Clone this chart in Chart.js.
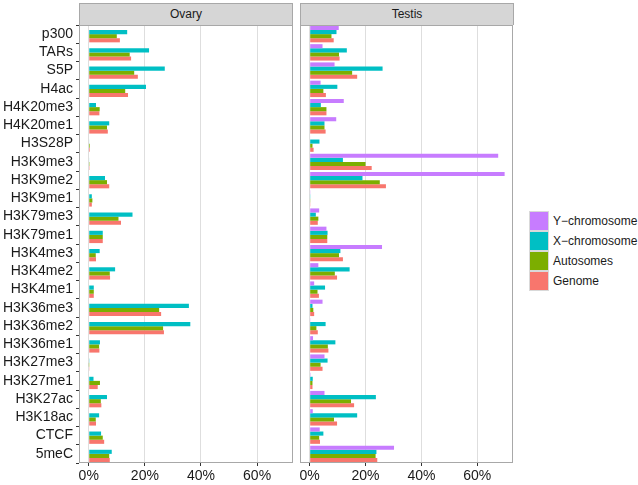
<!DOCTYPE html>
<html>
<head>
<meta charset="utf-8">
<script src="https://cdn.jsdelivr.net/npm/chart.js@4.4.1/dist/chart.umd.min.js"></script>
<style>
body { margin: 0; background: #fff; font-family: 'Liberation Sans', Arial, sans-serif; }
#wrap { position: relative; width: 638px; height: 485px; }
.strip { position: absolute; top: 3px; height: 21px; background: #D6D6D6; border: 1px solid #A8A8A8;
  border-bottom: none; box-sizing: content-box; text-align: center; font-size: 12px; line-height: 21px; color: #1a1a1a; }
.panel { position: absolute; top: 25px; height: 460px; }
#legend { position: absolute; left: 529px; top: 211px; font-size: 12px; color: #1a1a1a; }
.item { display: flex; align-items: center; height: 20px; }
.key { width: 18px; height: 18px; border: 1px solid #D9D9D9; margin-right: 4px; }
</style>
</head>
<body>
<div id="wrap">
  <div class="strip" style="left:79px;width:212px;">Ovary</div>
  <div class="strip" style="left:300px;width:212px;">Testis</div>
  <div class="panel" style="left:0;width:294px;"><canvas id="ovaryChart" width="294" height="460"></canvas></div>
  <div class="panel" style="left:294px;width:220px;"><canvas id="testisChart" width="220" height="460"></canvas></div>
  <div id="legend"></div>
</div>
<script>
// Categorias (de cima para baixo)
const marks = ['p300', 'TARs', 'S5P', 'H4ac', 'H4K20me3', 'H4K20me1', 'H3S28P', 'H3K9me3',
  'H3K9me2', 'H3K9me1', 'H3K79me3', 'H3K79me1', 'H3K4me3', 'H3K4me2', 'H3K4me1',
  'H3K36me3', 'H3K36me2', 'H3K36me1', 'H3K27me3', 'H3K27me1', 'H3K27ac', 'H3K18ac', 'CTCF', '5meC'];
const seriesNames = ['Y\u2212chromosome', 'X\u2212chromosome', 'Autosomes', 'Genome'];
const xTicks = [0, 20, 40, 60];

// Ovary (%), sem cromossomo Y
const ovaryY = marks.map(() => null);
const ovaryX = [13.7, 21.5, 27.1, 20.4, 2.6, 7.3, 0.2, 0.2, 5.8, 1.1, 15.6, 5.0, 3.9, 9.4, 1.8,
  35.7, 36.2, 4.0, 0.1, 1.7, 6.5, 3.7, 4.4, 8.2];
const ovaryA = [10.0, 14.6, 16.2, 13.0, 3.9, 6.5, 0.4, 0.3, 6.5, 1.3, 10.6, 5.0, 2.5, 7.5, 1.8,
  25.1, 26.5, 3.7, 0.05, 4.0, 4.3, 2.5, 5.0, 7.3];
const ovaryG = [11.1, 15.1, 17.5, 14.0, 3.8, 6.8, 0.4, 0.3, 7.3, 1.1, 11.5, 5.0, 2.6, 7.6, 1.8,
  25.8, 26.8, 3.8, 0.1, 3.2, 4.5, 2.6, 5.5, 7.5];

// Testis (%)
const testisY = [10.4, 4.6, 8.9, 3.9, 12.2, 9.5, 0.2, 67.5, 69.8, 0.1, 3.4, 6.0, 25.9, 3.1, 1.6,
  4.6, 0.1, 1.2, 5.3, 0.3, 5.3, 1.1, 3.6, 30.2];
const testisX = [9.6, 13.3, 26.1, 9.9, 4.0, 5.3, 3.5, 11.9, 18.9, 0.1, 2.2, 6.4, 11.0, 14.3, 5.5,
  1.0, 5.7, 9.2, 6.4, 1.1, 23.7, 17.0, 4.9, 23.9];
const testisA = [7.8, 10.5, 15.2, 4.9, 6.0, 5.3, 1.0, 20.0, 25.1, 0.1, 3.1, 6.3, 10.5, 9.0, 2.8,
  1.3, 2.4, 6.5, 3.9, 1.0, 14.8, 8.7, 3.4, 23.6];
const testisG = [8.6, 10.7, 17.0, 5.8, 6.0, 5.7, 1.4, 22.2, 27.3, 0.1, 2.9, 6.3, 11.9, 9.8, 3.3,
  1.6, 2.9, 6.7, 4.6, 1.0, 15.9, 9.8, 3.7, 24.2];

const colors = {
  y: '#C77CFF',
  x: '#00BFC4',
  a: '#7CAE00',
  g: '#F8766D',
  grid: '#DEDEDE',
  tick: '#333333',
  text: '#1a1a1a',
  border: '#A8A8A8'
};
const seriesColors = [colors.y, colors.x, colors.a, colors.g];

// Borda do painel em volta da área do gráfico
const panelBorder = {
  id: 'panelBorder',
  afterDraw(chart) {
    const a = chart.chartArea;
    const ctx = chart.ctx;
    ctx.save();
    ctx.strokeStyle = colors.border;
    ctx.lineWidth = 1;
    ctx.strokeRect(Math.round(a.left) + 0.5, Math.round(a.top) + 0.5,
      Math.round(a.right - a.left) - 1, Math.round(a.bottom - a.top) - 1);
    ctx.restore();
  }
};

const makeChart = (id, series, showY, padLeft) => {
  new Chart(document.getElementById(id), {
    type: 'bar',
    data: {
      labels: marks,
      datasets: series.map((d, i) => ({
        label: seriesNames[i],
        data: d,
        backgroundColor: seriesColors[i],
        borderWidth: 0,
        categoryPercentage: 0.9,
        barPercentage: 1
      }))
    },
    options: {
      indexAxis: 'y',
      responsive: false,
      animation: false,
      events: [],
      layout: { padding: { top: 0, right: 1, bottom: 0, left: padLeft } },
      plugins: { legend: { display: false }, tooltip: { enabled: false } },
      scales: {
        x: {
          min: -3.47,
          max: 72.8,
          afterBuildTicks: (axis) => { axis.ticks = xTicks.map(v => ({ value: v })); },
          afterFit: (axis) => {
            axis.height = 22;
            axis.paddingLeft = 0;
            axis.paddingRight = 0;
          },
          border: { display: false },
          grid: { color: colors.grid, tickColor: colors.tick, tickLength: 3, lineWidth: 1 },
          ticks: {
            color: colors.text, padding: 2, maxRotation: 0,
            font: { family: "'Liberation Sans', Arial, sans-serif", size: 14 },
            callback: (v) => v + '%'
          }
        },
        y: {
          display: showY,
          afterFit: (axis) => {
            axis.width = showY ? 79 : 0;
            axis.paddingTop = 0;
            axis.paddingBottom = 0;
          },
          border: { display: false },
          grid: { drawOnChartArea: false, tickColor: colors.tick, tickLength: 3 },
          ticks: {
            color: colors.text, padding: 3, autoSkip: false,
            font: { family: "'Liberation Sans', Arial, sans-serif", size: 14 }
          }
        }
      }
    },
    plugins: [panelBorder]
  });
};

makeChart('ovaryChart', [ovaryY, ovaryX, ovaryA, ovaryG], true, 0);
makeChart('testisChart', [testisY, testisX, testisA, testisG], false, 6);

// Legenda em HTML
const legend = document.getElementById('legend');
seriesNames.forEach((name, i) => {
  const item = document.createElement('div');
  item.className = 'item';
  item.innerHTML = '<div class="key" style="background:' + seriesColors[i] + '"></div><span>' + name + '</span>';
  legend.appendChild(item);
});
</script>
</body>
</html>
